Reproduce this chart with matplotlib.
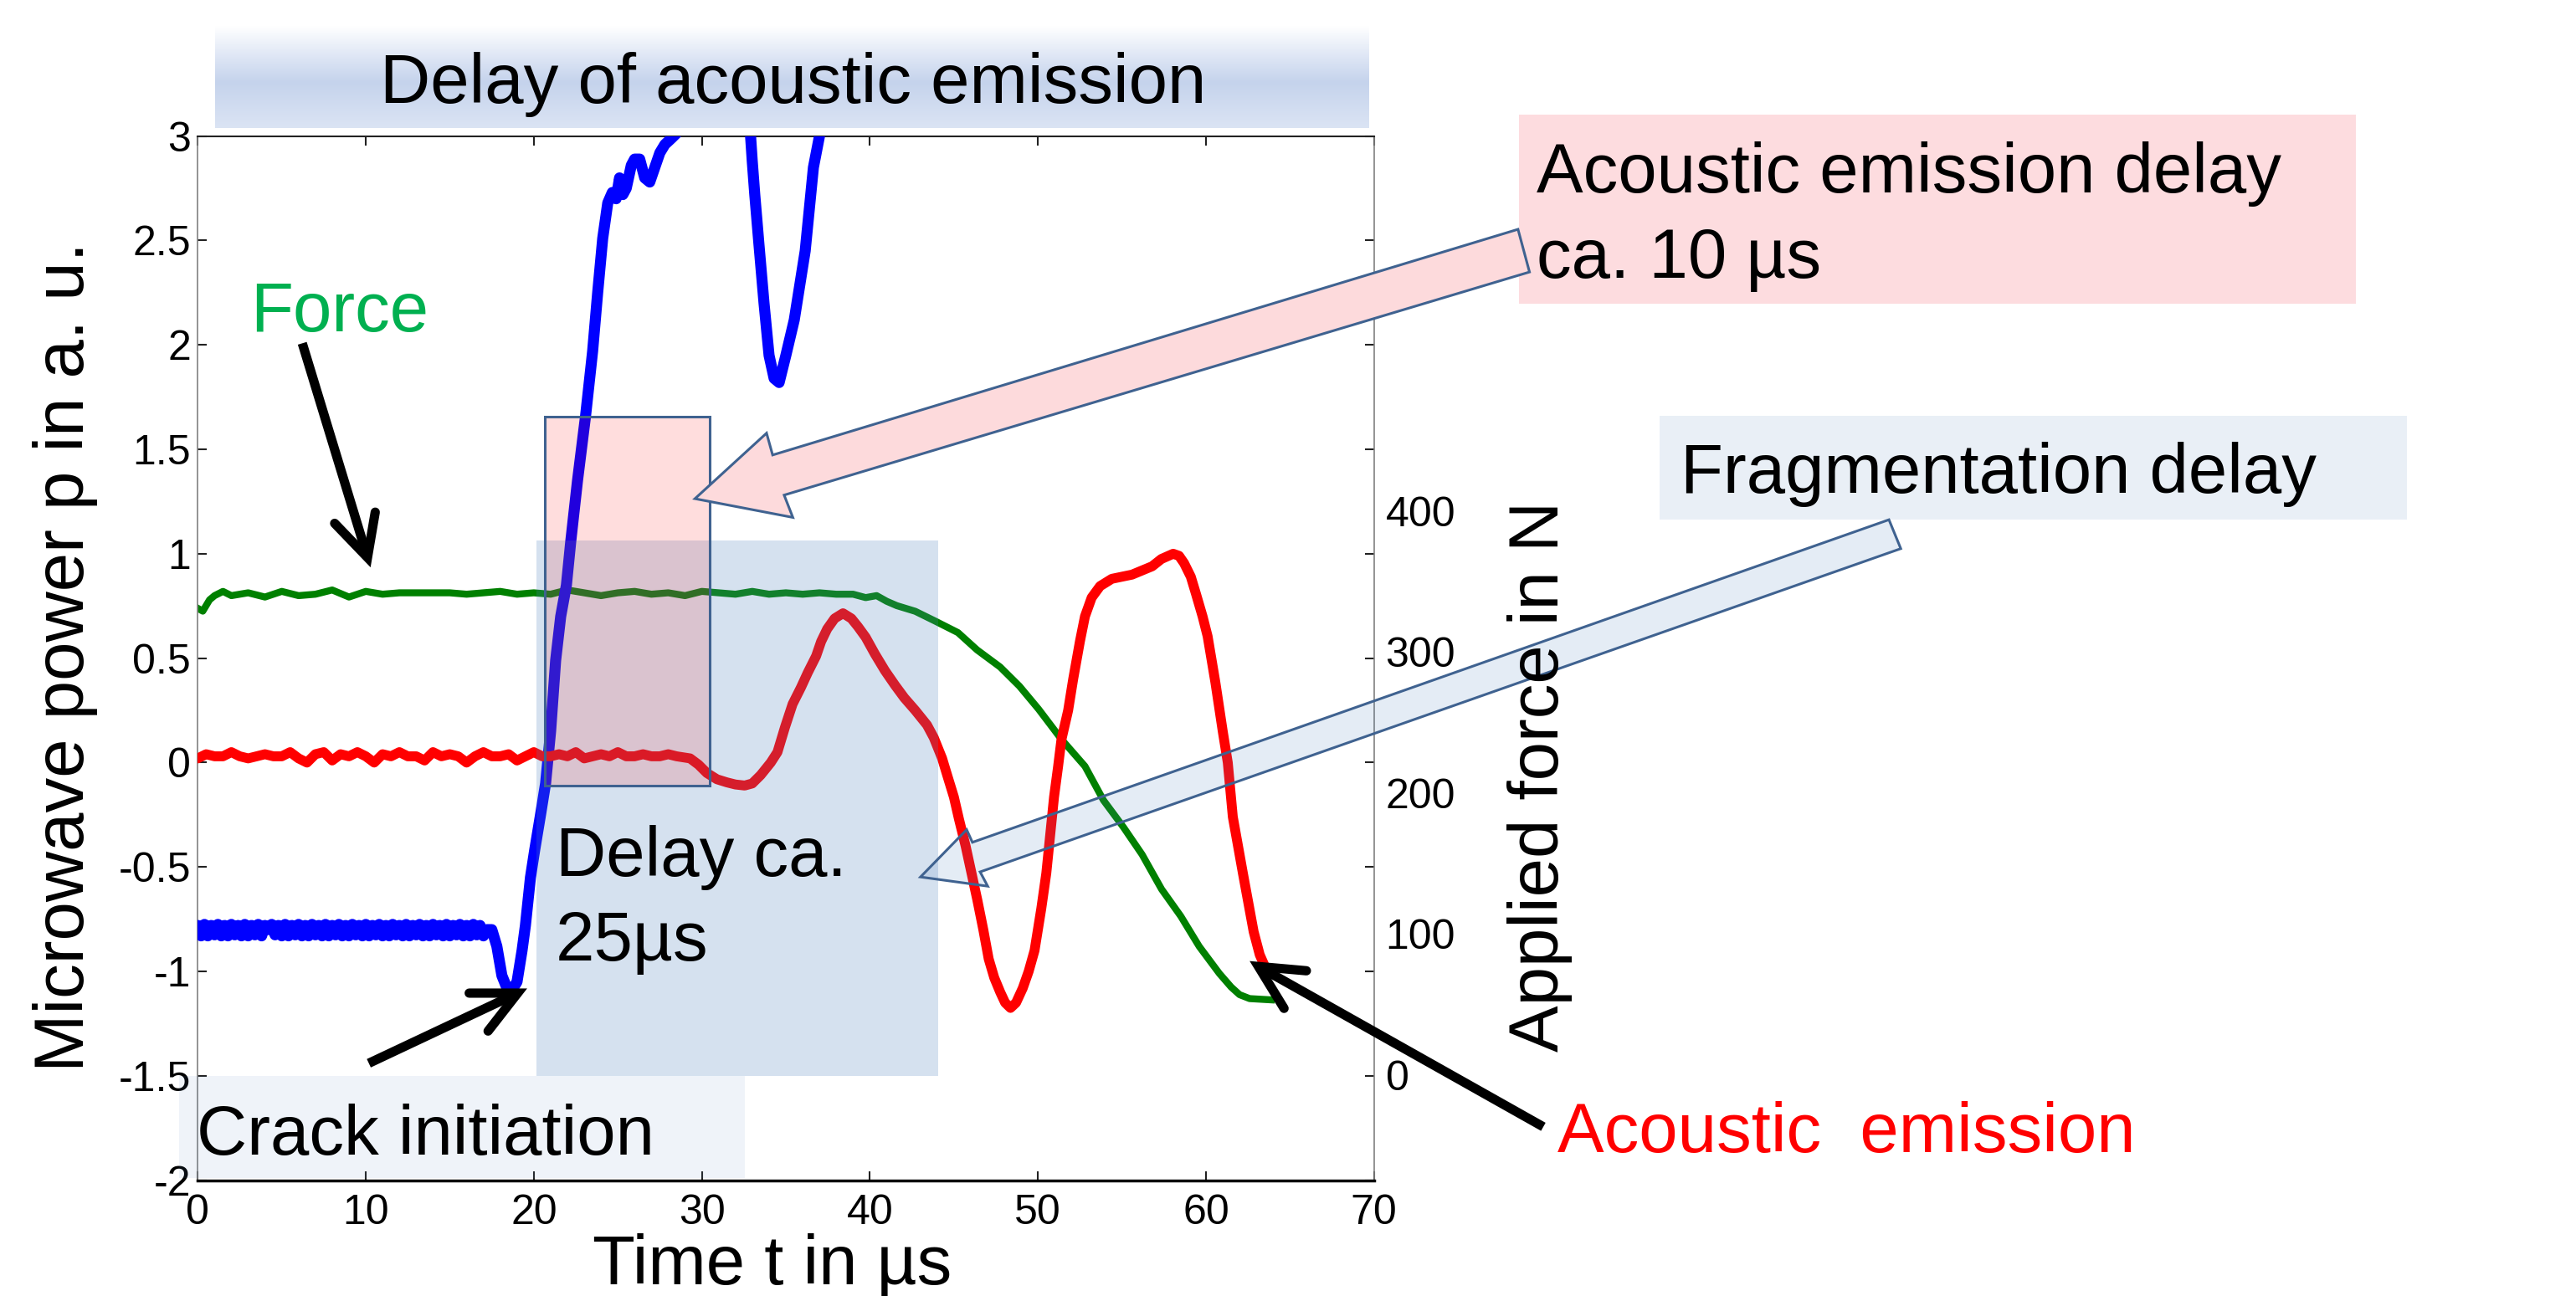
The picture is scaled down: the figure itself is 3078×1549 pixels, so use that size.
import numpy as np
import matplotlib
matplotlib.use("Agg")
import matplotlib.pyplot as plt
from matplotlib.patches import Rectangle, Polygon
from matplotlib.lines import Line2D

plt.rcParams['font.family'] = ['Liberation Sans', 'DejaVu Sans']

# ---------------- data ----------------
# Microwave power (blue), left axis
t_mw = [0.0, 0.2, 0.4, 0.6, 0.8, 1.0, 1.2, 1.4, 1.6, 1.8,
        2.0, 2.2, 2.4, 2.6, 2.8, 3.0, 3.2, 3.4, 3.6, 3.8,
        4.0, 4.2, 4.4, 4.6, 4.8, 5.0, 5.2, 5.4, 5.6, 5.8,
        6.0, 6.2, 6.4, 6.6, 6.8, 7.0, 7.2, 7.4, 7.6, 7.8,
        8.0, 8.2, 8.4, 8.6, 8.8, 9.0, 9.2, 9.4, 9.6, 9.8,
        10.0, 10.2, 10.4, 10.6, 10.8, 11.0, 11.2, 11.4, 11.6, 11.8,
        12.0, 12.2, 12.4, 12.6, 12.8, 13.0, 13.2, 13.4, 13.6, 13.8,
        14.0, 14.2, 14.4, 14.6, 14.8, 15.0, 15.2, 15.4, 15.6, 15.8,
        16.0, 16.2, 16.4, 16.6, 16.8, 17.0, 17.2,
        17.5, 17.8, 18.1, 18.4, 18.7, 19.0, 19.3, 19.5, 19.8, 20.05,
        20.4, 20.7, 21.0, 21.3, 21.6, 21.94, 22.2, 22.6, 23.08, 23.5,
        23.8, 24.1, 24.4, 24.67, 24.9, 25.1, 25.3, 25.5, 25.8, 26.0,
        26.3, 26.6, 26.9, 27.2, 27.5, 27.8, 28.2, 28.7, 29.5, 30.5,
        31.5, 32.3, 32.9, 33.0, 33.15, 33.4, 33.7, 34.0, 34.3, 34.6,
        35.0, 35.5, 36.15, 36.64, 37.0, 37.5, 38.5]
p_mw = [-0.78, -0.83, -0.775, -0.83, -0.78, -0.825, -0.775, -0.83, -0.78, -0.83,
        -0.775, -0.825, -0.78, -0.83, -0.775, -0.83, -0.78, -0.825, -0.775, -0.83,
        -0.78, -0.80, -0.775, -0.825, -0.78, -0.83, -0.775, -0.83, -0.78, -0.825,
        -0.775, -0.83, -0.78, -0.83, -0.775, -0.825, -0.78, -0.83, -0.775, -0.83,
        -0.78, -0.825, -0.775, -0.83, -0.78, -0.83, -0.775, -0.825, -0.78, -0.83,
        -0.775, -0.83, -0.78, -0.825, -0.775, -0.83, -0.78, -0.83, -0.775, -0.825,
        -0.78, -0.83, -0.775, -0.83, -0.78, -0.825, -0.775, -0.83, -0.78, -0.83,
        -0.775, -0.825, -0.78, -0.83, -0.775, -0.83, -0.78, -0.825, -0.775, -0.83,
        -0.78, -0.83, -0.775, -0.825, -0.78, -0.83, -0.80,
        -0.80, -0.88, -1.02, -1.08, -1.09, -1.05, -0.90, -0.78, -0.55, -0.42,
        -0.25, -0.10, 0.15, 0.49, 0.70, 0.85, 1.06, 1.35, 1.66, 1.97,
        2.25, 2.51, 2.68, 2.73, 2.70, 2.80, 2.72, 2.75, 2.86, 2.89,
        2.89, 2.80, 2.78, 2.85, 2.92, 2.96, 2.99, 3.03, 3.15, 3.30,
        3.35, 3.20, 3.00, 2.88, 2.72, 2.48, 2.20, 1.95, 1.84, 1.82,
        1.95, 2.12, 2.45, 2.85, 3.00, 3.30, 3.60]

# Acoustic emission (red), left axis
t_ae = [0.0, 0.5, 1.0, 1.5, 2.0, 2.5, 3.0, 3.5, 4.0, 4.5,
        5.0, 5.5, 6.0, 6.5, 7.0, 7.5, 8.0, 8.5, 9.0, 9.5,
        10.0, 10.5, 11.0, 11.5, 12.0, 12.5, 13.0, 13.5, 14.0, 14.5,
        15.0, 15.5, 16.0, 16.5, 17.0, 17.5, 18.0, 18.5, 19.0, 19.5,
        20.0, 20.5, 21.0, 21.5, 22.0, 22.5, 23.0, 23.5, 24.0, 24.5,
        25.0, 25.5, 26.0, 26.5, 27.0, 27.5, 28.0, 28.5,
        29.3, 29.8, 30.3, 30.9, 31.5, 32.0, 32.55, 33.0, 33.5, 34.1,
        34.5, 34.95, 35.4, 35.9, 36.3, 36.8, 37.1, 37.46, 37.9, 38.4,
        38.9, 39.3, 39.75, 40.3, 40.9, 41.5, 42.05, 42.7, 43.4, 43.8,
        44.3, 44.6, 45.0, 45.3, 45.7, 46.05, 46.4, 46.75, 47.07, 47.4,
        47.76, 48.05, 48.37, 48.7, 49.1, 49.45, 49.8, 50.2, 50.5, 50.75,
        50.96, 51.2, 51.4, 51.8, 52.1, 52.5, 52.8, 53.2, 53.7, 54.4,
        55.0, 55.6, 56.2, 56.8, 57.35, 58.05, 58.4, 58.7, 59.1, 59.4,
        59.8, 60.1, 60.56, 61.0, 61.3, 61.6, 62.2, 62.84, 63.2, 63.5]
p_ae = [0.02, 0.04, 0.03, 0.03, 0.05, 0.03, 0.02, 0.03, 0.04, 0.03,
        0.03, 0.05, 0.02, 0.00, 0.04, 0.05, 0.01, 0.04, 0.03, 0.05,
        0.03, 0.00, 0.04, 0.03, 0.05, 0.03, 0.03, 0.01, 0.05, 0.03,
        0.04, 0.03, 0.00, 0.03, 0.05, 0.03, 0.03, 0.04, 0.01, 0.03,
        0.05, 0.03, 0.03, 0.04, 0.03, 0.05, 0.02, 0.03, 0.04, 0.03,
        0.05, 0.03, 0.03, 0.04, 0.03, 0.03, 0.04, 0.03,
        0.02, -0.01, -0.05, -0.08, -0.095, -0.105, -0.11, -0.10, -0.06, 0.00,
        0.05, 0.17, 0.28, 0.36, 0.43, 0.51, 0.58, 0.64, 0.69, 0.715,
        0.69, 0.65, 0.60, 0.52, 0.44, 0.37, 0.31, 0.25, 0.18, 0.12,
        0.02, -0.06, -0.165, -0.27, -0.40, -0.53, -0.66, -0.80, -0.94, -1.03,
        -1.10, -1.15, -1.175, -1.15, -1.08, -1.00, -0.90, -0.70, -0.53, -0.33,
        -0.165, -0.02, 0.11, 0.25, 0.40, 0.58, 0.70, 0.79, 0.845, 0.88,
        0.89, 0.90, 0.92, 0.94, 0.975, 1.00, 0.99, 0.955, 0.89, 0.81,
        0.70, 0.605, 0.385, 0.15, 0.00, -0.26, -0.53, -0.81, -0.92, -0.975]

# Applied force (green), right axis in N
t_f = [0.0, 0.3, 0.7, 1.0, 1.5, 2.0, 3.0, 4.0, 5.0, 6.0,
       7.0, 8.0, 9.0, 10.0, 11.0, 12.0, 13.0, 14.0, 15.0, 16.0,
       17.0, 18.0, 19.0, 20.0, 21.0, 22.0, 23.0, 24.0, 25.0, 26.0,
       27.0, 28.0, 29.0, 30.0, 31.0, 32.0, 33.0, 34.0, 35.0, 36.0,
       37.0, 38.0, 39.0, 39.75, 40.4, 41.0, 41.6, 42.7, 43.86, 45.24,
       46.38, 47.75, 48.9, 50.04, 51.4, 52.8, 53.9, 55.1, 56.2, 57.36,
       58.5, 59.6, 60.8, 61.5, 62.0, 62.6, 63.9]
F_f = [331, 329, 337, 340, 343, 340, 342, 339, 343, 340,
       341, 344, 339, 343, 341, 342, 342, 342, 342, 341,
       342, 343, 341, 342, 341, 344, 342, 340, 342, 343,
       341, 342, 340, 343, 342, 341, 343, 341, 342, 341,
       342, 341, 341, 338.6, 340, 336, 332.9, 328.9, 322.1, 313.8,
       301.5, 289.4, 275.8, 259.5, 238.1, 219.0, 194.9, 175.6, 156.4, 131.8,
       112.7, 91.2, 72.0, 62.4, 57.0, 54.2, 53.3]

x_ticks = [0, 10, 20, 30, 40, 50, 60, 70]
y_ticks = [-2, -1.5, -1, -0.5, 0, 0.5, 1, 1.5, 2, 2.5, 3]
y_ticklabels = ['-2', '-1.5', '-1', '-0.5', '0', '0.5', '1', '1.5', '2', '2.5', '3']
f_ticks = [0, 100, 200, 300, 400]
f_ticklabels = ['0', '100', '200', '300', '400']

# highlighted intervals (data units)
delay_rect = (20.18, 44.04, -1.5, 1.065)     # t0, t1, p0, p1
ae_rect = (20.65, 30.48, -0.11, 1.655)

# ---------------- figure ----------------
W, H = 3078, 1549
fig = plt.figure(figsize=(W / 100, H / 100), dpi=100)


def P(x, y):
    """layout grid (1568 x 789) -> figure fraction"""
    return (x / 1568.0, 1.0 - y / 789.0)


BIG = 60
TICK = 36
EDGE = '#3F6290'
PPT_BLUE = (79 / 255, 129 / 255, 189 / 255)

ax = fig.add_axes([0.07677, 0.08935, 0.53337 - 0.07677, 0.89497 - 0.08935])
ax2 = ax.twinx()
ax.set_zorder(2)
ax2.set_zorder(1)
ax.patch.set_visible(False)

ax.plot(t_mw, p_mw, color='#0000FF', lw=9.5, solid_joinstyle='round',
        solid_capstyle='round', zorder=3)
ax.plot(t_ae, p_ae, color='#FF0000', lw=8.5, solid_joinstyle='round',
        solid_capstyle='round', zorder=3)
ax2.plot(t_f, F_f, color='#008000', lw=6, solid_joinstyle='round')

ax.set_xlim(0, 70)
ax.set_ylim(-2, 3)
ax2.set_ylim(-74.6, 665.9)

ax.set_xticks(x_ticks)
ax.set_xticklabels([str(v) for v in x_ticks])
ax.set_yticks(y_ticks)
ax.set_yticklabels(y_ticklabels)
ax.tick_params(axis='both', direction='in', length=8, width=1.5, colors='#222222',
               labelcolor='black', labelsize=TICK, top=True, right=True)
ax.tick_params(axis='x', pad=12)
ax.tick_params(axis='y', pad=6)
ax2.set_yticks(f_ticks)
ax2.set_yticklabels(f_ticklabels)
ax2.tick_params(axis='y', length=0, labelsize=TICK, pad=10, labelcolor='black')

for s in ['left', 'right']:
    ax.spines[s].set_color('#808080')
    ax.spines[s].set_linewidth(1.2)
ax.spines['top'].set_color('#222222')
ax.spines['top'].set_linewidth(1.5)
ax.spines['bottom'].set_color('black')
ax.spines['bottom'].set_linewidth(2.5)
for s in ax2.spines.values():
    s.set_visible(False)

# translucent highlight rectangles over the curves
ax.add_patch(Rectangle((delay_rect[0], delay_rect[2]), delay_rect[1] - delay_rect[0],
                       delay_rect[3] - delay_rect[2], facecolor=PPT_BLUE + (0.235,),
                       edgecolor='none', zorder=5))
ax.add_patch(Rectangle((ae_rect[0], ae_rect[2]), ae_rect[1] - ae_rect[0],
                       ae_rect[3] - ae_rect[2], facecolor=(1, 0, 0, 0.135),
                       edgecolor=EDGE, lw=2.2, zorder=6))

# ---------------- title band with gradient ----------------
bx0, by0 = P(131, 78)
bx1, by1 = P(833, 16)
band = fig.add_axes([bx0, by0, bx1 - bx0, by1 - by0])
band.set_zorder(0)
pos = np.linspace(0, 1, 200)
stops = [0.0, 0.3, 0.55, 1.0]
cols = np.array([[255, 255, 255], [222, 230, 245], [197, 211, 236], [219, 228, 244]]) / 255.0
grad = np.stack([np.interp(pos, stops, cols[:, c]) for c in range(3)], axis=-1)[:, None, :]
band.imshow(grad, aspect='auto', origin='upper')
band.axis('off')

# ---------------- text boxes ----------------
def fig_rect(x0, y0, x1, y1, fc, z=2.5):
    a = P(x0, y1)
    b = P(x1, y0)
    r = Rectangle(a, b[0] - a[0], b[1] - a[1], transform=fig.transFigure,
                  facecolor=fc, edgecolor='none', zorder=z)
    fig.add_artist(r)


fig_rect(924.6, 69.7, 1434, 184.7, '#FDDCDF')
fig_rect(1010.4, 253.4, 1465, 316.2, PPT_BLUE + (0.12,))
fig_rect(109, 655, 453.5, 717, PPT_BLUE + (0.09,))

# block arrows
pink_arrow = [(423, 303.6), (466.6, 263.7), (470.3, 277), (924, 139.6),
              (931, 165.6), (477.3, 301.4), (482.6, 315)]
blue_arrow = [(560.3, 533.9), (588.4, 505.1), (591.9, 512.8), (1149.8, 316.4),
              (1157, 334), (596.6, 530.8), (601.2, 539.5)]
fig.add_artist(Polygon([P(*p) for p in pink_arrow], closed=True, transform=fig.transFigure,
                       facecolor='#FDDADC', edgecolor=EDGE, lw=2.2, zorder=2.6))
fig.add_artist(Polygon([P(*p) for p in blue_arrow], closed=True, transform=fig.transFigure,
                       facecolor=PPT_BLUE + (0.15,), edgecolor=EDGE, lw=2.2, zorder=2.6))

# black line arrows (start, tip, barb1, barb2)
black_arrows = [
    ((184, 209), (223.7, 339.4), (203.7, 318.6), (228.4, 311.8)),
    ((224.5, 647.3), (315.1, 604.6), (285.6, 604.6), (297.1, 627.7)),
    ((939.4, 686), (766, 588.4), (795.2, 591), (781.6, 613.9)),
]
for st, tip, b1, b2 in black_arrows:
    xs, ys = zip(*[P(*st), P(*tip)])
    fig.add_artist(Line2D(xs, ys, transform=fig.transFigure, color='black', lw=8,
                          solid_capstyle='butt', zorder=2.7))
    xs, ys = zip(*[P(*b1), P(*tip), P(*b2)])
    fig.add_artist(Line2D(xs, ys, transform=fig.transFigure, color='black', lw=8,
                          solid_capstyle='round', solid_joinstyle='miter', zorder=2.7))

# ---------------- texts ----------------
def ftext(x, y, s, **kw):
    kw.setdefault('fontsize', BIG)
    kw.setdefault('va', 'baseline')
    kw.setdefault('ha', 'left')
    kw.setdefault('zorder', 4)
    fig.text(*P(x, y), s, **kw)


ftext(482.5, 62.8, 'Delay of acoustic emission', ha='center')
ftext(152.2, 201.7, 'Force', color='#00B050')
ftext(935.4, 117.4, 'Acoustic emission delay')
ftext(935.4, 169.1, 'ca. 10 µs')
ftext(1023, 300.2, 'Fragmentation delay')
ftext(338.2, 533.1, 'Delay ca.')
ftext(338.2, 585, '25µs')
ftext(119.5, 702.7, 'Crack initiation')
ftext(948, 701.3, 'Acoustic  emission', color='#FF0000')
ftext(470, 782, 'Time t in µs', ha='center')
ftext(51, 400, 'Microwave power p in a. u.', ha='center', rotation=90, rotation_mode='anchor')
ftext(948.4, 472.5, 'Applied force in N', ha='center', rotation=90, rotation_mode='anchor')

fig.savefig('out.png', dpi=100)
